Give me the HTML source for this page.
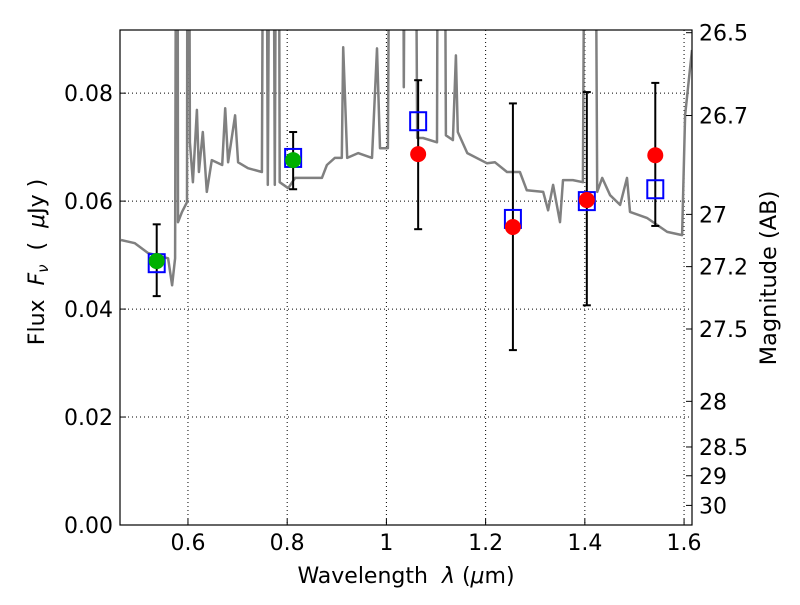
<!DOCTYPE html>
<html><head><meta charset="utf-8"><style>
body{margin:0;background:#fff;}
svg{font-family:"DejaVu Sans","Liberation Sans",sans-serif;}
text{white-space:pre;}
</style></head><body>
<svg id="chart" width="800" height="600">
<defs><clipPath id="clip"><rect x="120" y="30" width="572" height="495"/></clipPath></defs>
<rect x="0" y="0" width="800" height="600" fill="#fff"/>
<g id="grid"></g>
<g id="spec" clip-path="url(#clip)"></g>
<g id="marks"></g>
<rect x="120" y="30" width="572" height="495" fill="none" stroke="#000" stroke-width="1.2"/>
<g id="axes"></g>
<text x="406" y="583" text-anchor="middle" font-size="22">Wavelength  <tspan font-style="italic">λ</tspan> (<tspan font-style="italic">μ</tspan>m)</text>
<text transform="translate(44,262) rotate(-90)" text-anchor="middle" font-size="22">Flux  <tspan font-style="italic">F<tspan font-size="15" dy="4">ν</tspan></tspan><tspan dy="-4">  (  </tspan><tspan font-style="italic">μ</tspan>Jy )</text>
<text transform="translate(776,278) rotate(-90)" text-anchor="middle" font-size="22.5">Magnitude (AB)</text>
</svg>
<script>
const specLam=[0.465,0.493,0.519,0.560,0.568,0.574,0.578,0.580,0.588,0.598,0.600,0.604,0.610,0.618,0.622,0.630,0.638,0.648,0.669,0.675,0.681,0.695,0.701,0.721,0.749,0.755,0.761,0.769,0.775,0.781,0.785,0.802,0.816,0.842,0.870,0.880,0.896,0.910,0.913,0.921,0.943,0.971,0.981,0.987,1.003,1.011,1.031,1.035,1.042,1.054,1.062,1.074,1.102,1.106,1.114,1.120,1.134,1.140,1.144,1.163,1.203,1.219,1.243,1.269,1.283,1.316,1.326,1.336,1.350,1.356,1.376,1.396,1.404,1.417,1.425,1.435,1.451,1.471,1.485,1.491,1.525,1.566,1.596,1.602,1.616];
const specFlux=[0.0528,0.0522,0.0504,0.0494,0.0444,0.0494,0.2,0.0561,0.0580,0.0598,0.2,0.0709,0.0635,0.0769,0.0654,0.0728,0.0617,0.0676,0.0667,0.0772,0.0672,0.0759,0.0672,0.0661,0.0654,0.2,0.0630,0.2,0.0630,0.2,0.0635,0.0624,0.0643,0.0643,0.0643,0.0667,0.0680,0.0680,0.0885,0.0680,0.0689,0.0680,0.0883,0.0698,0.0698,0.2,0.2,0.0811,0.2,0.2,0.0717,0.0717,0.0709,0.2,0.2,0.0722,0.0713,0.0870,0.0728,0.0689,0.0670,0.0672,0.0654,0.0654,0.0620,0.0617,0.0583,0.0630,0.0561,0.0639,0.0639,0.0635,0.2,0.2,0.0617,0.0643,0.0611,0.0593,0.0643,0.0580,0.0569,0.0543,0.0537,0.0759,0.0880];
const obsLam=[0.537,0.812,1.064,1.255,1.404,1.542];
const obsFlux=[0.0489,0.0676,0.0687,0.0552,0.0602,0.0685];
const obsColor=["#00b000","#00b000","red","red","red","red"];
const errLo=[0.0424,0.0622,0.0548,0.0324,0.0407,0.0554];
const errHi=[0.0557,0.0728,0.0824,0.0781,0.0802,0.0819];
const modelFlux=[0.0485,0.0680,0.0748,0.0567,0.0600,0.0622];
const xTicks=[0.6,0.8,1.0,1.2,1.4,1.6];
const xTickLabels=["0.6","0.8","1","1.2","1.4","1.6"];
const yTicks=[0,0.02,0.04,0.06,0.08];
const yTickLabels=["0.00","0.02","0.04","0.06","0.08"];
const magTicks=[26.5,26.7,27,27.2,27.5,28,28.5,29,30];
const magTickLabels=["26.5","26.7","27","27.2","27.5","28","28.5","29","30"];

const X0=120,X1=692,Y0=525,Y1=30,XMIN=0.463,XMAX=1.616,YMIN=0,YMAX=0.0917;
const sx=v=>X0+(v-XMIN)/(XMAX-XMIN)*(X1-X0);
const sy=v=>Y0-(v-YMIN)/(YMAX-YMIN)*(Y0-Y1);
const NS="http://www.w3.org/2000/svg";
function mk(parent,tag,attrs){const e=document.createElementNS(NS,tag);for(const k in attrs)e.setAttribute(k,attrs[k]);document.getElementById(parent).appendChild(e);return e;}

xTicks.forEach((t,i)=>{
  const x=sx(t);
  const g=mk("grid","line",{x1:x,x2:x,y1:Y1,y2:Y0,stroke:"#000","stroke-dasharray":"1,3","stroke-width":1});
  
  
  const tk=mk("axes","line",{x1:x,x2:x,y1:Y0,y2:Y0-6,stroke:"#000"});
  
  
  const tx=mk("axes","text",{x:x,y:550,"text-anchor":"middle","font-size":22});
  tx.textContent=xTickLabels[i];
  
  
});
yTicks.forEach((t,i)=>{
  const y=sy(t);
  if(t>0){
  const g=mk("grid","line",{x1:X0,x2:X1,y1:y,y2:y,stroke:"#000","stroke-dasharray":"1,3","stroke-width":1});
  
  }
  const tk=mk("axes","line",{x1:X0,x2:X0+6,y1:y,y2:y,stroke:"#000"});
  
  
  const tx=mk("axes","text",{x:113,y:y+8,"text-anchor":"end","font-size":22});
  tx.textContent=yTickLabels[i];
  
  
});
magTicks.forEach((m,i)=>{
  const y=sy(Math.pow(10,(23.9-m)/2.5));
  const tk=mk("axes","line",{x1:X1,x2:X1-6,y1:y,y2:y,stroke:"#000"});
  
  
  const tx=mk("axes","text",{x:699,y:y+8,"text-anchor":"start","font-size":22});
  tx.textContent=magTickLabels[i];
  
  
});
const pts=specLam.map((l,i)=>sx(l).toFixed(1)+","+sy(specFlux[i]).toFixed(1)).join(" ");
const pl=mk("spec","polyline",{points:pts,fill:"none",stroke:"#808080","stroke-width":2.5,"stroke-linejoin":"round"});


obsLam.forEach((l,i)=>{
  const x=sx(l);
  const e=mk("marks","line",{x1:x,x2:x,y1:sy(errLo[i]),y2:sy(errHi[i]),stroke:"#000","stroke-width":2});
  
  
  [errLo[i],errHi[i]].forEach(v=>{
    const c=mk("marks","line",{x1:x-4,x2:x+4,y1:sy(v),y2:sy(v),stroke:"#000","stroke-width":2});
    
    
  });
  const s=mk("marks","rect",{x:x-8,y:sy(modelFlux[i])-9,width:16,height:18,fill:"none",stroke:"#0000ff","stroke-width":2});
  
  
  const d=mk("marks","circle",{cx:x,cy:sy(obsFlux[i]),r:8,fill:obsColor[i]});
  
  
});
</script>
</body></html>
